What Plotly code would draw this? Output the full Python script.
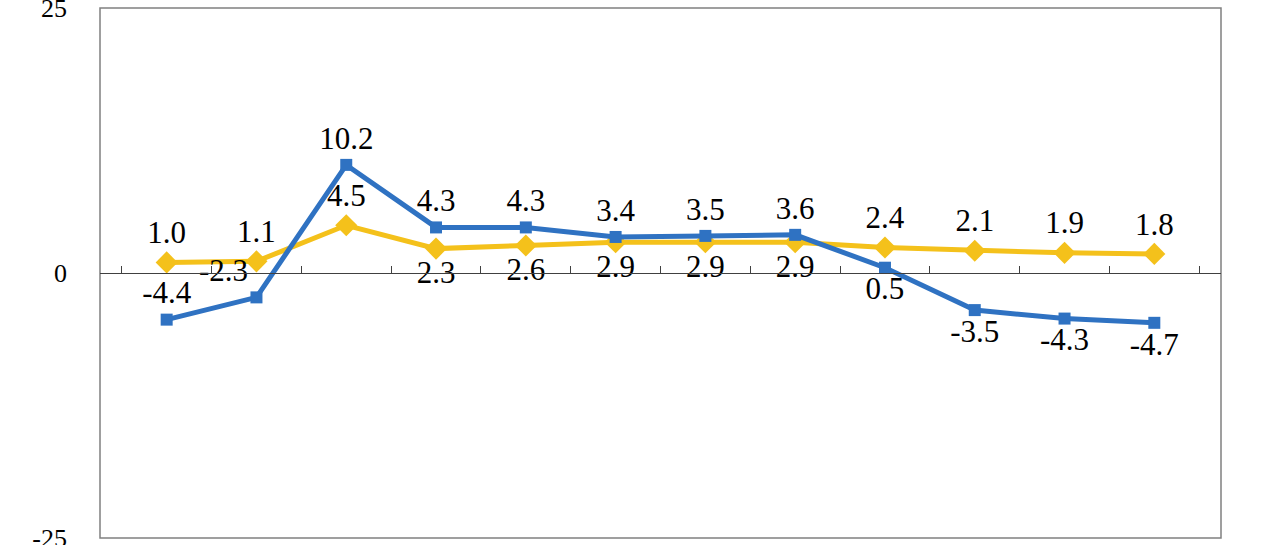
import plotly.graph_objects as go

# categorie (nessuna etichetta visibile sull'asse x)
categories = [str(i) for i in range(1, 13)]

# serie blu (quadrati) e serie gialla (rombi)
blue_values = [-4.4, -2.3, 10.2, 4.3, 4.3, 3.4, 3.5, 3.6, 0.5, -3.5, -4.3, -4.7]
yellow_values = [1.0, 1.1, 4.5, 2.3, 2.6, 2.9, 2.9, 2.9, 2.4, 2.1, 1.9, 1.8]

# posizione delle etichette dati
blue_pos = ['top center', 'top left', 'top center', 'top center', 'top center', 'top center',
            'top center', 'top center', 'bottom center', 'bottom center', 'bottom center', 'bottom center']
yellow_pos = ['top center', 'top center', 'top center', 'bottom center', 'bottom center', 'bottom center',
              'bottom center', 'bottom center', 'top center', 'top center', 'top center', 'top center']

y_ticks = [-25, 0, 25]

BLUE = '#2F72C2'
YELLOW = '#F4C11B'
SERIF = 'Liberation Serif'
label_font = dict(family=SERIF, size=31, color='black')

fig = go.Figure()

fig.add_trace(go.Scatter(
    x=categories, y=yellow_values,
    mode='lines+markers+text',
    line=dict(color=YELLOW, width=5),
    marker=dict(symbol='diamond', size=17, color=YELLOW),
    text=[f'{v:.1f}' for v in yellow_values],
    textposition=yellow_pos,
    textfont=label_font,
    showlegend=False,
))

fig.add_trace(go.Scatter(
    x=categories, y=blue_values,
    mode='lines+markers+text',
    line=dict(color=BLUE, width=5),
    marker=dict(symbol='square', size=12, color=BLUE),
    text=[f'{v:.1f}' for v in blue_values],
    textposition=blue_pos,
    textfont=label_font,
    showlegend=False,
))

fig.update_layout(
    width=1280, height=545,
    margin=dict(l=100, r=59, t=8, b=7),
    plot_bgcolor='white',
    paper_bgcolor='white',
    font=dict(family=SERIF, color='black'),
    xaxis=dict(
        type='category',
        anchor='free', position=0.5,
        showline=True, linecolor='#404040', linewidth=1,
        ticks='inside', ticklen=7, tickcolor='#404040', tickson='boundaries',
        showticklabels=False, showgrid=False, zeroline=False,
        automargin=False,
    ),
    yaxis=dict(
        range=[-25, 25],
        tickvals=y_ticks,
        ticktext=[str(v) for v in y_ticks],
        showgrid=False, zeroline=False,
        showline=False, ticks='',
        ticklabelstandoff=32,
        ticklabeloverflow='allow',
        automargin=False,
        tickfont=dict(family=SERIF, size=26, color='black'),
    ),
    shapes=[dict(
        type='rect', xref='paper', yref='paper', x0=0, x1=1, y0=0, y1=1,
        line=dict(color='#808080', width=1.5), layer='below',
    )],
)

# toglie il margine del body per allineare la figura alla finestra
fig.write_html('out.html', config={'displayModeBar': False},
               post_script="document.body.style.margin='0';")
